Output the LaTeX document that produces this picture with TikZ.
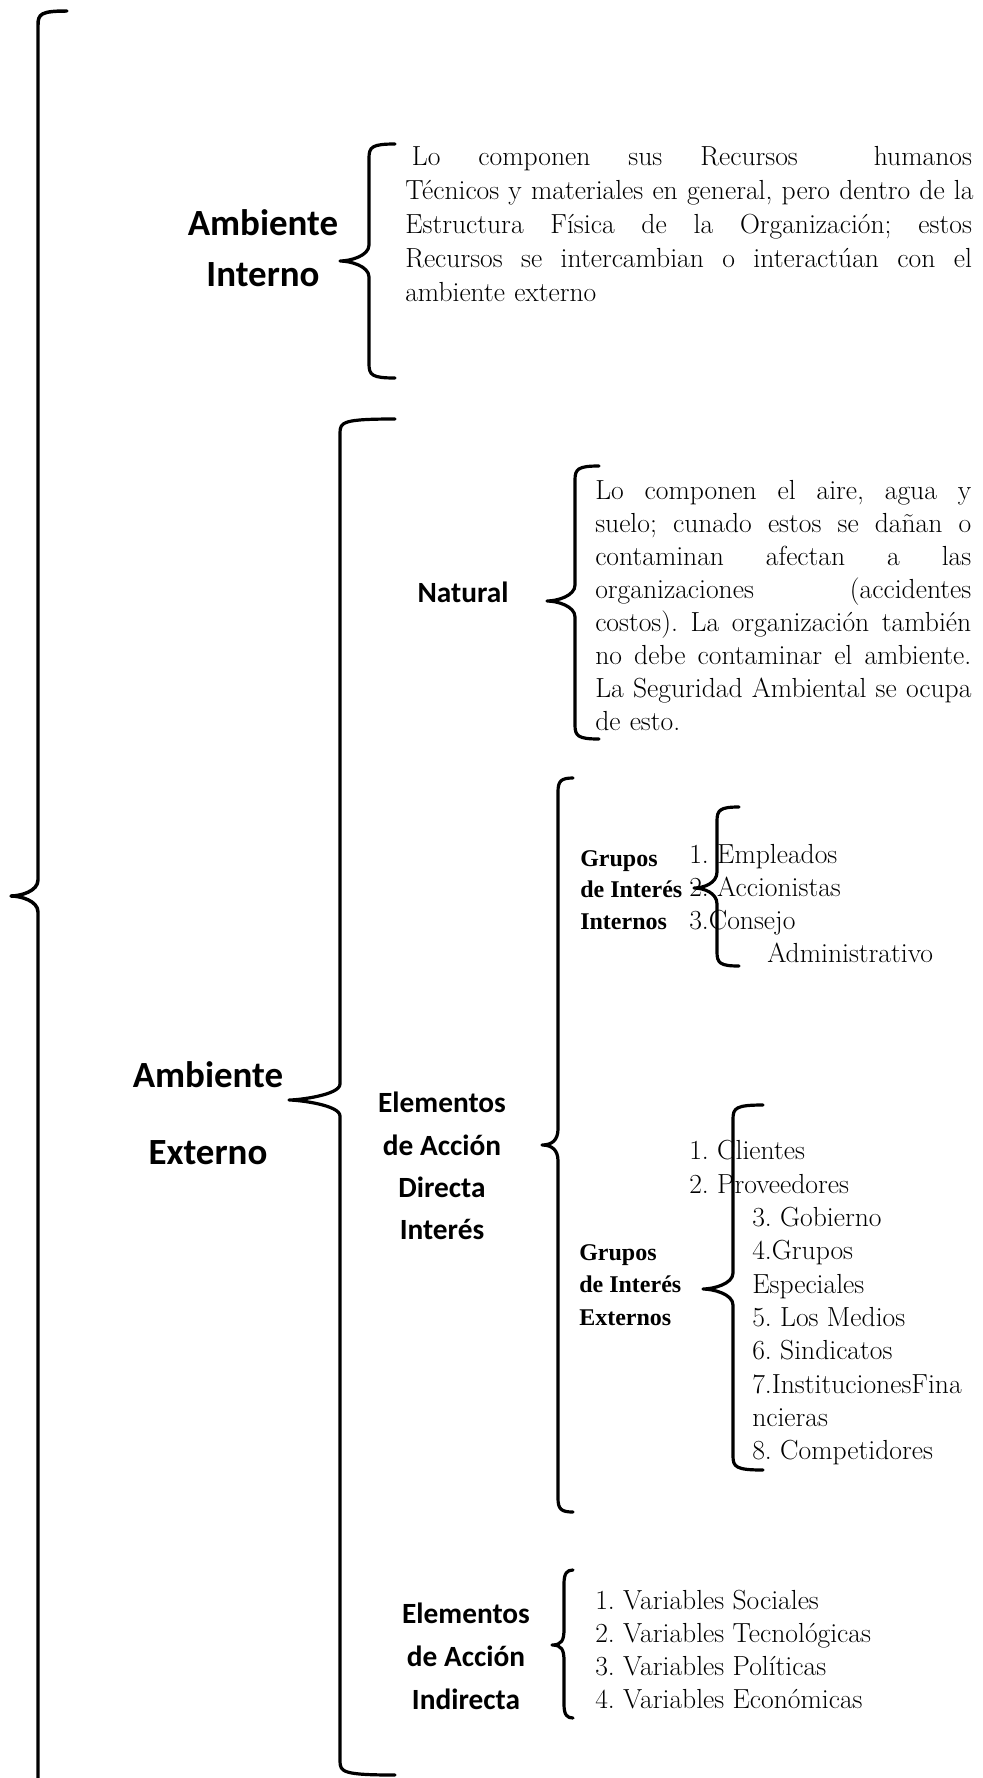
\documentclass[tikz,border=0pt]{standalone}
\usepackage{fontspec}
\newfontfamily\labelfont{Carlito}
\newfontfamily\groupfont{Liberation Serif}
\frenchspacing

% left curly brace: x of the stem, top y, bottom y, tip x, tip y, x of the end hooks
\newcommand{\drawbrace}[7][]{%
  \draw[brace,#1] (#7,#3) .. controls ({#2+3},#3) and (#2,{#3+3}) .. (#2,{#3+14})
    -- (#2,{#6-16}) .. controls (#2,{#6-5}) and ({#5+10},#6) .. (#5,#6)
    .. controls ({#5+10},#6) and (#2,{#6+5}) .. (#2,{#6+16})
    -- (#2,{#4-14}) .. controls (#2,{#4-3}) and ({#2+3},#4) .. (#7,#4);
}
% one justified line of a given width
\newcommand{\jl}[2]{\leavevmode\hbox to #1{\spaceskip=0.3333em plus 1fil\relax\xspaceskip=\spaceskip #2}}

\begin{document}
\begin{tikzpicture}[
  x=0.75pt, y=-0.75pt,
  brace/.style={line width=2.4pt, line cap=round, line join=round},
  biglabel/.style={inner sep=0pt, align=center, font=\labelfont\bfseries\fontsize{27.7}{38.25}\selectfont},
  midlabel/.style={inner sep=0pt, align=center, font=\labelfont\bfseries\fontsize{22}{31.7}\selectfont},
  grouplabel/.style={inner sep=0pt, align=left, anchor=west, font=\groupfont\bfseries\fontsize{18}{23.5}\selectfont},
  bodytext/.style={inner sep=0pt, align=left, anchor=west, font=\fontsize{20.7}{25.5}\selectfont},
  listtext/.style={inner sep=0pt, align=left, anchor=west, font=\fontsize{20.7}{24.75}\selectfont},
]
\useasboundingbox[fill=white] (0,0) rectangle (982,1778);

% braces
\drawbrace[line width=2.6pt]{38}{11}{1795}{11}{896}{67}
\drawbrace{369}{144}{378}{340}{261}{395}
\drawbrace{340}{419}{1775}{289}{1100}{395}
\drawbrace{575}{466}{739}{547}{601}{599}
\drawbrace{558}{778}{1512}{542}{1145}{573}
\drawbrace{717}{807}{966}{694}{888}{739}
\drawbrace{733}{1105}{1470}{703}{1289}{763}
\drawbrace{564}{1570}{1718}{552}{1645}{573}

% headings
\node[biglabel] (ambint) at (263,248) {Ambiente\\Interno};
\node[biglabel, font=\labelfont\bfseries\fontsize{27.7}{57.75}\selectfont] (ambext) at (208,1113) {Ambiente\\Externo};
\node[midlabel] (natural) at (463,592) {Natural};
\node[midlabel] (directa) at (442,1166) {Elementos\\de Acción\\Directa\\Interés};
\node[midlabel, font=\labelfont\bfseries\fontsize{22}{32.25}\selectfont] (indirecta) at (466,1656) {Elementos\\de Acción\\Indirecta};
\node[grouplabel] (gint) at (580,890) {Grupos\\de Interés\\Internos};
\node[grouplabel, font=\groupfont\bfseries\fontsize{18}{24.4}\selectfont] (gext) at (579,1285) {Grupos\\de Interés\\Externos};

% descriptions
\node[bodytext, text width=425pt] (txtint) at (405,224) {%
\jl{425pt}{\hspace{5pt}Lo componen sus Recursos \ humanos}\\
\jl{425pt}{Técnicos y materiales en general, pero dentro de la}\\
\jl{425pt}{Estructura Física de la Organización; estos}\\
\jl{425pt}{Recursos se intercambian o interactúan con el}\\
ambiente externo};

\node[bodytext, text width=282pt, font=\fontsize{20.7}{24.75}\selectfont] (txtnat) at (595,606) {%
\jl{282pt}{Lo componen el aire, agua y}\\
\jl{282pt}{suelo; cunado estos se dañan o}\\
\jl{282pt}{contaminan afectan a las}\\
\jl{282pt}{organizaciones (accidentes}\\
\jl{282pt}{costos). La organización también}\\
\jl{282pt}{no debe contaminar el ambiente.}\\
\jl{282pt}{La Seguridad Ambiental se ocupa}\\
de esto.};

% lists
\node[listtext] (lstint) at (689,904) {1. Empleados\\2. Accionistas\\3.Consejo\\\hspace*{58.5pt}Administrativo};
\node[listtext, font=\fontsize{20.7}{25}\selectfont] (lstext) at (689,1303) {1. Clientes\\2. Proveedores\\
\hspace*{47.25pt}3. Gobierno\\\hspace*{47.25pt}4.Grupos\\\hspace*{47.25pt}Especiales\\
\hspace*{47.25pt}5. Los Medios\\\hspace*{47.25pt}6. Sindicatos\\\hspace*{47.25pt}7.InstitucionesFina\\
\hspace*{47.25pt}ncieras\\\hspace*{47.25pt}8. Competidores};
\node[listtext] (lstind) at (595,1650) {1. Variables Sociales\\2. Variables Tecnológicas\\3. Variables Políticas\\4. Variables Económicas};
\end{tikzpicture}
\end{document}
